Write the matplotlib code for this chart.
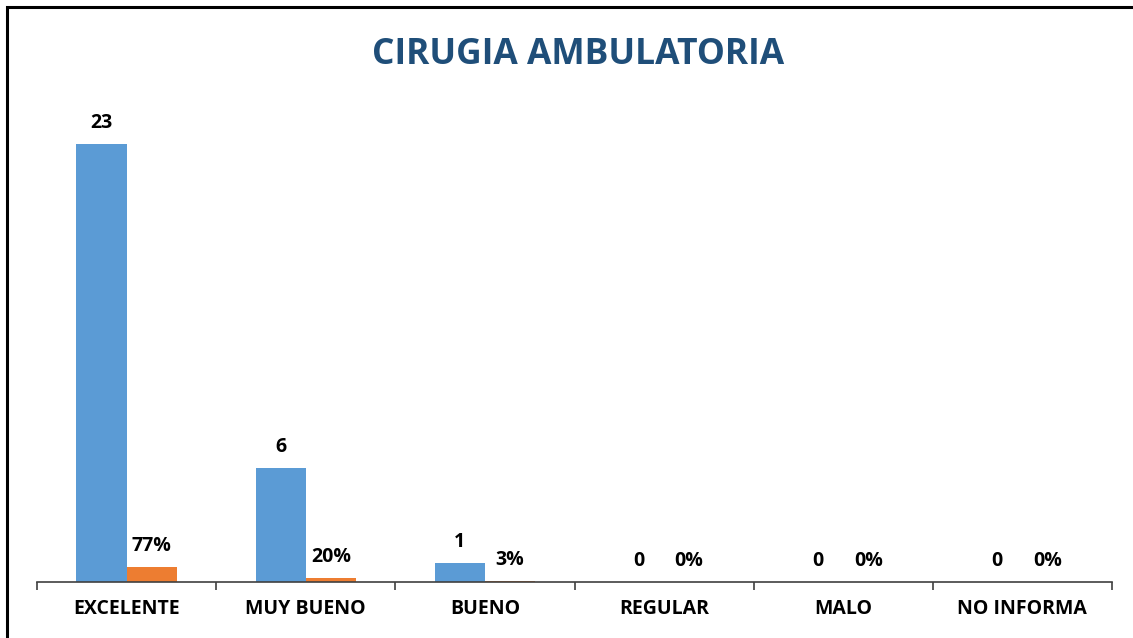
import numpy as np
import matplotlib.pyplot as plt
from matplotlib.patches import Rectangle

# Data
categorias = ["EXCELENTE", "MUY BUENO", "BUENO", "REGULAR", "MALO", "NO INFORMA"]
cantidades = [23, 6, 1, 0, 0, 0]
porcentajes = [0.77, 0.20, 0.03, 0.0, 0.0, 0.0]
titulo = "CIRUGIA AMBULATORIA"

azul = "#5B9BD5"
naranja = "#ED7D31"

plt.rcParams['font.family'] = ['Open Sans', 'DejaVu Sans']

fig = plt.figure(figsize=(11.33, 6.38), dpi=100)
ax = fig.add_axes([37 / 1133, 1 - 582 / 638, (1112 - 37) / 1133, (582 - 106) / 638])

x = np.arange(len(categorias))
w = 0.28
b1 = ax.bar(x - w / 2, cantidades, w, color=azul)
b2 = ax.bar(x + w / 2, porcentajes, w, color=naranja)

for rect, v in zip(b1, cantidades):
    ax.annotate(str(v), (rect.get_x() + rect.get_width() / 2, rect.get_height()),
                xytext=(0, 8), textcoords="offset points", ha="center", va="bottom",
                fontsize=14, fontweight="bold", color="black")
for rect, v in zip(b2, porcentajes):
    ax.annotate(f"{v:.0%}", (rect.get_x() + rect.get_width() / 2, rect.get_height()),
                xytext=(0, 8), textcoords="offset points", ha="center", va="bottom",
                fontsize=14, fontweight="bold", color="black")

ax.set_xlim(-0.5, len(categorias) - 0.5)
ax.set_ylim(0, 25)
ax.set_yticks([])
ax.set_xticks(x)
ax.set_xticklabels(categorias, fontsize=14, fontweight="bold")
ax.tick_params(axis="x", which="major", length=0, pad=12)
ax.set_xticks(np.arange(len(categorias) + 1) - 0.5, minor=True)
ax.tick_params(axis="x", which="minor", length=6, width=1.2, color="#404040", direction="out")
for s in ["top", "right", "left"]:
    ax.spines[s].set_visible(False)
ax.spines["bottom"].set_color("#404040")
ax.spines["bottom"].set_linewidth(1.2)

fig.text(578 / 1133, 1 - 55 / 638, titulo, ha="center", va="center",
         fontsize=25.5, fontweight="bold", color="#1F4E79")

# frame around the chart
fig.patches.append(Rectangle((7 / 1133, -0.05), 1.1, 1 - 7 / 638 + 0.05,
                             transform=fig.transFigure, fill=False,
                             edgecolor="black", linewidth=2.2))

fig.savefig("out.png", dpi=100)
